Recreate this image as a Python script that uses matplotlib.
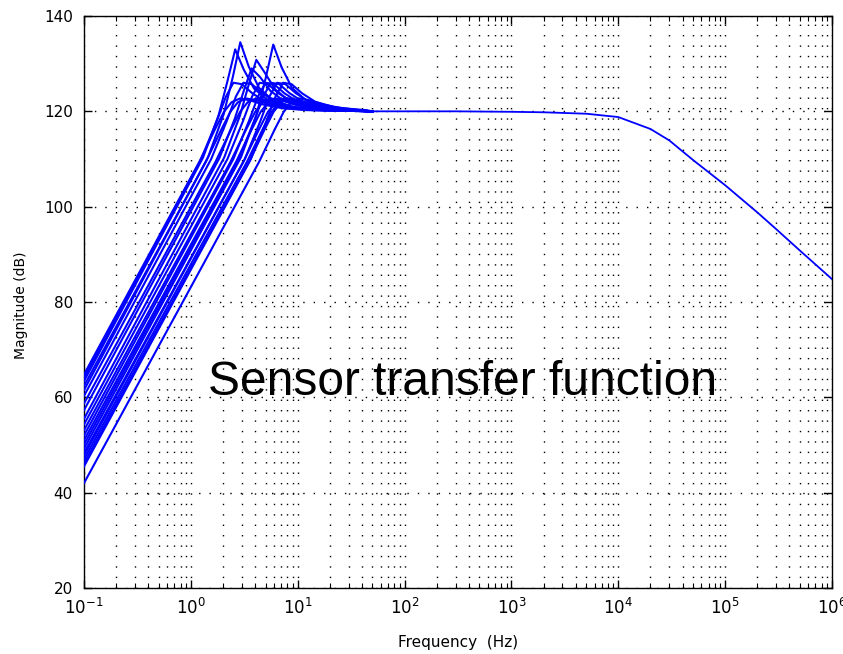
import matplotlib
matplotlib.use("Agg")
import matplotlib.pyplot as plt
from matplotlib.ticker import LogLocator, NullFormatter

BLUE = "#0000ff"

# low-frequency part of each sensor curve (Hz, dB)
CURVES = [
    ([0.1, 1.2, 1.68, 2.04, 2.4, 2.88, 3.6, 4.8, 7.2, 12, 50],
     [64.8, 109.4, 116.2, 119.9, 121.9, 122.7, 122.3, 121.4, 120.65, 120.25, 120.0]),
    ([0.1, 1.25, 1.75, 2.13, 2.5, 3.0, 3.75, 5.0, 7.5, 12.5, 50],
     [64.1, 110.0, 118.0, 123.1, 126.0, 125.7, 123.8, 122.0, 120.9, 120.3, 120.0]),
    ([0.1, 1.3, 1.82, 2.21, 2.6, 3.12, 3.9, 5.2, 7.8, 13, 50],
     [63.4, 110.3, 119.2, 126.5, 133.0, 128.8, 124.8, 122.4, 121.0, 120.35, 120.0]),
    ([0.1, 1.38, 1.93, 2.34, 2.75, 3.3, 4.13, 5.5, 8.25, 13.8, 50],
     [62.4, 109.4, 116.2, 119.9, 121.9, 122.7, 122.3, 121.4, 120.65, 120.25, 120.0]),
    ([0.1, 1.45, 2.03, 2.47, 2.9, 3.48, 4.35, 5.8, 8.7, 14.5, 50],
     [61.5, 110.4, 119.4, 127.2, 134.5, 129.4, 124.9, 122.4, 121.0, 120.35, 120.0]),
    ([0.1, 1.55, 2.17, 2.64, 3.1, 3.72, 4.65, 6.2, 9.3, 15.5, 50],
     [60.3, 110.0, 118.0, 123.1, 126.0, 125.7, 123.8, 122.0, 120.9, 120.3, 120.0]),
    ([0.1, 1.7, 2.38, 2.89, 3.4, 4.08, 5.1, 6.8, 10.2, 17, 50],
     [58.7, 109.4, 116.2, 119.9, 121.9, 122.7, 122.3, 121.4, 120.65, 120.25, 120.0]),
    ([0.1, 1.85, 2.59, 3.15, 3.7, 4.44, 5.55, 7.4, 11.1, 18.5, 50],
     [57.3, 110.2, 118.6, 124.5, 129.0, 127.2, 124.3, 122.2, 121.0, 120.35, 120.0]),
    ([0.1, 2.05, 2.87, 3.49, 4.1, 4.92, 6.15, 8.2, 12.3, 20.5, 50],
     [55.5, 110.3, 119.0, 125.7, 130.8, 128.1, 124.6, 122.3, 121.0, 120.35, 120.0]),
    ([0.1, 2.2, 3.08, 3.74, 4.4, 5.28, 6.6, 8.8, 13.2, 22, 50],
     [54.3, 110.0, 118.0, 123.1, 126.0, 125.7, 123.8, 122.0, 120.9, 120.3, 120.0]),
    ([0.1, 2.35, 3.29, 4.0, 4.7, 5.64, 7.05, 9.4, 14.1, 23.5, 50],
     [53.1, 109.4, 116.2, 119.9, 121.9, 122.7, 122.3, 121.4, 120.65, 120.25, 120.0]),
    ([0.1, 2.5, 3.5, 4.25, 5.0, 6.0, 7.5, 10, 15, 25, 50],
     [52.0, 110.0, 118.0, 123.1, 126.0, 125.7, 123.8, 122.0, 120.9, 120.3, 120.0]),
    ([0.1, 2.65, 3.71, 4.5, 5.3, 6.36, 7.95, 10.6, 15.9, 26.5, 50],
     [51.0, 109.4, 116.2, 119.9, 121.9, 122.7, 122.3, 121.4, 120.65, 120.25, 120.0]),
    ([0.1, 2.8, 3.92, 4.76, 5.6, 6.72, 8.4, 11.2, 16.8, 28, 50],
     [50.1, 110.0, 118.0, 123.1, 126.0, 125.7, 123.8, 122.0, 120.9, 120.3, 120.0]),
    ([0.1, 2.95, 4.13, 5.02, 5.9, 7.08, 8.85, 11.8, 17.7, 29.5, 50],
     [49.2, 110.4, 119.4, 127.0, 134.0, 129.2, 124.9, 122.4, 121.0, 120.35, 120.0]),
    ([0.1, 3.1, 4.34, 5.27, 6.2, 7.44, 9.3, 12.4, 18.6, 31, 50],
     [48.3, 109.4, 116.2, 119.9, 121.9, 122.7, 122.3, 121.4, 120.65, 120.25, 120.0]),
    ([0.1, 3.2, 4.48, 5.44, 6.4, 7.68, 9.6, 12.8, 19.2, 32, 50],
     [47.8, 110.0, 118.0, 123.1, 126.0, 125.7, 123.8, 122.0, 120.9, 120.3, 120.0]),
    ([0.1, 3.35, 4.69, 5.7, 6.7, 8.04, 10.05, 13.4, 20.1, 33.5, 50],
     [47.0, 109.4, 116.2, 119.9, 121.9, 122.7, 122.3, 121.4, 120.65, 120.25, 120.0]),
    ([0.1, 3.5, 4.9, 5.95, 7.0, 8.4, 10.5, 14, 21, 35, 50],
     [46.2, 109.4, 116.2, 119.9, 121.9, 122.7, 122.3, 121.4, 120.65, 120.25, 120.0]),
    ([0.1, 3.65, 5.11, 6.2, 7.3, 8.76, 10.95, 14.6, 21.9, 36.5, 50],
     [45.5, 110.0, 118.0, 123.1, 126.0, 125.7, 123.8, 122.0, 120.9, 120.3, 120.0]),
    ([0.1, 4.35, 6.09, 7.4, 8.7, 10.44, 13.05, 17.4, 26.1, 43.5, 50],
     [42.0, 109.4, 116.2, 119.9, 121.9, 122.7, 122.3, 121.4, 120.65, 120.25, 120.0]),
]

# common high-frequency roll-off shared by all sensors
TAIL_F = [50, 100, 300, 1000, 2000, 5000, 1e4, 2e4, 3e4, 5e4, 1e5, 2e5, 3e5, 5e5, 1e6]
TAIL_DB = [120.0, 120.0, 120.0, 119.9, 119.8, 119.5, 118.8, 116.3, 113.9, 109.8,
           104.5, 98.8, 95.3, 90.8, 84.8]

YTICKS = [20, 40, 60, 80, 100, 120, 140]
XTICKS = [1e-1, 1e0, 1e1, 1e2, 1e3, 1e4, 1e5, 1e6]

fig = plt.figure(figsize=(8.43, 6.54), dpi=100)
fig.patch.set_facecolor("white")
ax = fig.add_axes([84 / 843, 1 - 588 / 654, 748 / 843, 572 / 654])

for f, db in CURVES:
    ax.semilogx(f, db, color=BLUE, lw=1.5, zorder=3)
ax.semilogx(TAIL_F, TAIL_DB, color=BLUE, lw=1.3, zorder=3)

ax.set_xlim(1e-1, 1e6)
ax.set_ylim(20, 140)
ax.set_xticks(XTICKS)
ax.xaxis.set_minor_locator(LogLocator(base=10, subs=range(2, 10), numticks=50))
ax.xaxis.set_minor_formatter(NullFormatter())
ax.set_yticks(YTICKS)

# MATLAB-style sparse dotted grid
dots = (0, (1, 6.5))
ax.grid(which="major", axis="both", color="k", ls=dots, lw=1.0)
ax.grid(which="minor", axis="x", color="k", ls=dots, lw=1.0)
ax.set_axisbelow(True)

ax.tick_params(which="both", direction="in", top=True, right=True, colors="k")
ax.tick_params(axis="y", labelsize=11, pad=8)
ax.tick_params(axis="x", labelsize=12, pad=7)
ax.tick_params(which="major", length=6, width=1)
ax.tick_params(which="minor", length=3.5, width=0.8)
for s in ax.spines.values():
    s.set_color("k")
    s.set_linewidth(1)

fig.text(458 / 843, 1 - 643 / 654, "Frequency  (Hz)", ha="center", va="center",
         fontsize=11)
fig.text(21 / 843, 1 - 305 / 654, "Magnitude (dB)", ha="center", va="center",
         rotation=90, fontsize=10)

ax.text(0.506, 0.337, "Sensor transfer function", transform=ax.transAxes,
        ha="center", va="baseline", fontsize=34.5, family="Liberation Sans",
        color="k", zorder=5)

fig.savefig("out.png", dpi=100, facecolor="white")
